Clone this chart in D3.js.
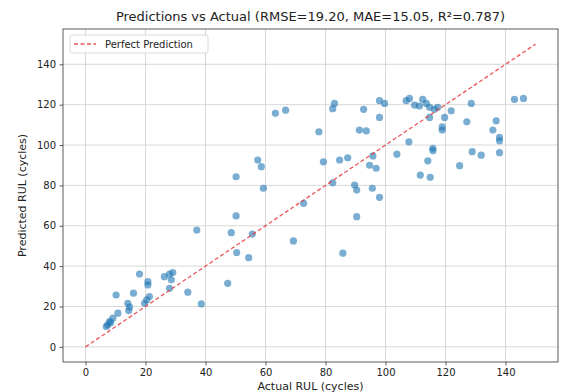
<!DOCTYPE html>
<html>
<head>
<meta charset="utf-8">
<script src="https://cdn.jsdelivr.net/npm/d3@7"></script>
<style>
  body { margin: 0; background: #fff; }
  text { font-family: "DejaVu Sans", sans-serif; fill: #222; }
</style>
</head>
<body>
<svg id="chart" width="562" height="392"></svg>
<script>
// actual vs predicted RUL
const actual = [6.9, 7.4, 8, 9.1, 8.4, 10.8, 10.2, 14.1, 14.7, 14.4, 16, 18, 19.7, 20.4, 21.3, 20.8, 20.8,
  26.3, 28, 29.1, 28.6, 28, 34.1, 37.1, 38.6, 47.4, 48.6, 50.2, 50.4, 54.4, 55.6, 50.2, 57.4, 58.6, 59.3,
  63.3, 66.7, 69.3, 72.7, 77.8, 79.3, 82.4, 82.4, 83, 84.7, 87.4, 85.8, 89.7, 90.4, 90.4, 91.3, 93.6, 92.7,
  94.7, 96.9, 95.8, 95.6, 98, 98, 99.7, 98, 103.8, 106.9, 108, 107.8, 109.7, 111.3, 112.4, 113.6, 114.7,
  116.3, 117.4, 114.7, 114.1, 115.8, 115.8, 111.6, 114.9, 118.9, 118.9, 119.7, 121.9, 124.7, 127.1, 128.6,
  128.9, 131.9, 135.8, 136.9, 138, 138, 138, 143, 146];
const predicted = [10.1, 10.9, 12.5, 14.2, 12, 16.7, 25.7, 21.6, 19.7, 18, 26.6, 36.1, 21.6, 23.3, 24.9, 30.7, 32.3,
  34.8, 36.1, 36.8, 33.2, 29, 27.1, 57.9, 21.3, 31.5, 56.6, 64.9, 46.7, 44.2, 55.9, 84.3, 92.6, 89.3, 78.6,
  115.7, 117.3, 52.5, 71.1, 106.6, 91.7, 81.3, 118, 120.6, 92.6, 93.7, 46.4, 80.2, 77.7, 64.5, 107.4, 107, 117.7,
  90, 88.5, 94.6, 78.6, 74.1, 122, 120.6, 113.7, 95.5, 122, 123.1, 101.6, 119.8, 119.3, 122.6, 120.6, 118.7,
  117.7, 118.7, 113.7, 92.2, 98.4, 97.2, 85.1, 84, 109, 107.4, 113.7, 117, 89.8, 111.5, 120.6,
  96.7, 95, 107.4, 112, 103.8, 102.1, 96.2, 122.6, 123.1];
const perfectLine = [0, 150];
const ticks = [0, 20, 40, 60, 80, 100, 120, 140];

const svg = d3.select("#chart");
const plotLeft = 63, plotRight = 558, plotTop = 29, plotBottom = 362;

const x = d3.scaleLinear().domain([-7.5, 157.5]).range([plotLeft, plotRight]);
const y = d3.scaleLinear().domain([-7.5, 157.5]).range([plotBottom, plotTop]);

// grid
svg.append("g")
  .selectAll("line")
  .data(ticks).enter().append("line")
  .attr("x1", d => x(d)).attr("x2", d => x(d))
  .attr("y1", plotTop).attr("y2", plotBottom)
  .attr("stroke", "#cfcfcf").attr("stroke-width", 0.8);
svg.append("g")
  .selectAll("line")
  .data(ticks).enter().append("line")
  .attr("y1", d => y(d)).attr("y2", d => y(d))
  .attr("x1", plotLeft).attr("x2", plotRight)
  .attr("stroke", "#cfcfcf").attr("stroke-width", 0.8);

// points
svg.append("g")
  .selectAll("circle")
  .data(actual).enter().append("circle")
  .attr("cx", d => x(d))
  .attr("cy", (d, i) => y(predicted[i]))
  .attr("r", 3.6)
  .attr("fill", "#1f77b4")
  .attr("fill-opacity", 0.6);

// perfect prediction line
svg.append("line")
  .attr("x1", x(perfectLine[0])).attr("y1", y(perfectLine[0]))
  .attr("x2", x(perfectLine[1])).attr("y2", y(perfectLine[1]))
  .attr("stroke", "#e8383d").attr("stroke-width", 1.3)
  .attr("stroke-dasharray", "4,2.5").attr("opacity", 0.85);

// axes
const xAxis = svg.append("g")
  .attr("transform", `translate(0,${plotBottom})`)
  .call(d3.axisBottom(x).tickValues(ticks).tickSize(3.5).tickPadding(3.5));
const yAxis = svg.append("g")
  .attr("transform", `translate(${plotLeft},0)`)
  .call(d3.axisLeft(y).tickValues(ticks).tickSize(3.5).tickPadding(3.5));
[xAxis, yAxis].forEach(a => {
  a.select(".domain").remove();
  a.selectAll("text").style("font-size", "10px").style("font-family", "DejaVu Sans").attr("fill", "#333");
  a.selectAll("line").attr("stroke", "#333").attr("stroke-width", 0.8);
});

// frame
svg.append("rect")
  .attr("x", plotLeft).attr("y", plotTop)
  .attr("width", plotRight - plotLeft).attr("height", plotBottom - plotTop)
  .attr("fill", "none").attr("stroke", "#333").attr("stroke-width", 0.8);

// title and labels
svg.append("text")
  .attr("x", (plotLeft + plotRight) / 2).attr("y", 21)
  .attr("text-anchor", "middle")
  .style("font-size", "13px")
  .text("Predictions vs Actual (RMSE=19.20, MAE=15.05, R²=0.787)");
svg.append("text")
  .attr("x", (plotLeft + plotRight) / 2).attr("y", 390)
  .attr("text-anchor", "middle")
  .style("font-size", "11px")
  .text("Actual RUL (cycles)");
svg.append("text")
  .attr("transform", `translate(26,${(plotTop + plotBottom) / 2}) rotate(-90)`)
  .attr("text-anchor", "middle")
  .style("font-size", "11px")
  .text("Predicted RUL (cycles)");

// legend
const lg = svg.append("g");
lg.append("rect")
  .attr("x", 70).attr("y", 35).attr("width", 138).attr("height", 18)
  .attr("rx", 2).attr("fill", "#fff").attr("fill-opacity", 0.8)
  .attr("stroke", "#d0d0d0").attr("stroke-width", 0.8);
lg.append("line")
  .attr("x1", 74).attr("x2", 96).attr("y1", 44).attr("y2", 44)
  .attr("stroke", "#e8383d").attr("stroke-width", 1.3)
  .attr("stroke-dasharray", "4,2.5").attr("opacity", 0.85);
lg.append("text")
  .attr("x", 105).attr("y", 47.5)
  .style("font-size", "10px")
  .text("Perfect Prediction");
</script>
</body>
</html>
